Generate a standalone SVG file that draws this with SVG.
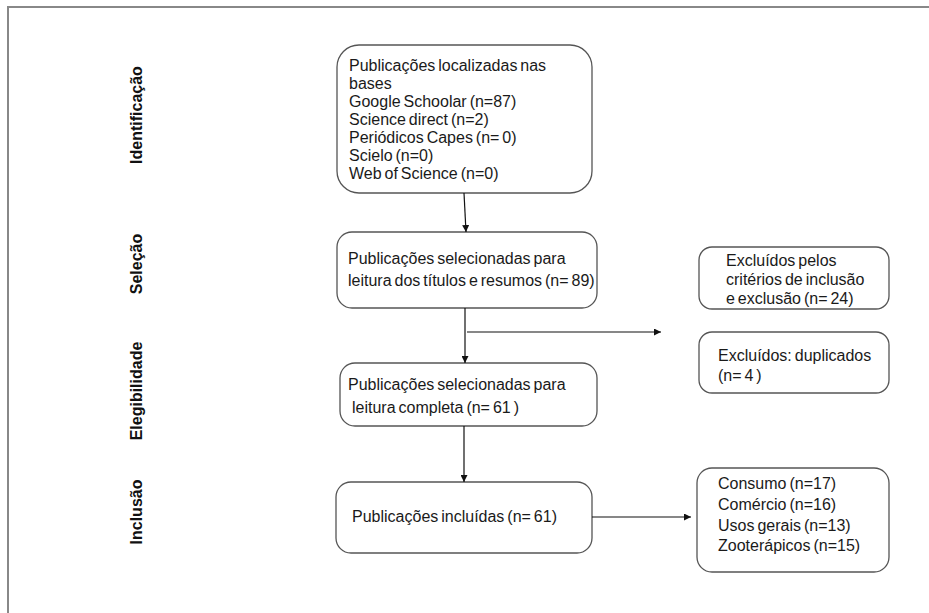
<svg xmlns="http://www.w3.org/2000/svg" width="929" height="613" viewBox="0 0 929 613">
<defs>
<marker id="ah" viewBox="0 0 10 10" refX="10" refY="5" markerWidth="7" markerHeight="7" markerUnits="userSpaceOnUse" orient="auto">
<path d="M0,0 L10,5 L0,10 z" fill="#111"/>
</marker>
<style>
.box{fill:#fff;stroke:#555;stroke-width:1.3}
.t{font-family:"Liberation Sans",Arial,sans-serif;font-size:16px;fill:#1a1a1a;word-spacing:-1.5px}
.side{font-family:"Liberation Sans",Arial,sans-serif;font-size:16px;font-weight:bold;fill:#111}
.c{stroke:#111;stroke-width:1.2;fill:none}
</style>
</defs>
<rect x="0" y="0" width="929" height="613" fill="#fff"/>
<rect x="8" y="7" width="940" height="640" fill="none" stroke="#888" stroke-width="2"/>
<g id="labels">
<text class="side" transform="translate(142,115) rotate(-90)" text-anchor="middle">Identificação</text>
<text class="side" transform="translate(142,264) rotate(-90)" text-anchor="middle">Seleção</text>
<text class="side" transform="translate(142,391) rotate(-90)" text-anchor="middle">Elegibilidade</text>
<text class="side" transform="translate(142,512) rotate(-90)" text-anchor="middle">Inclusão</text>
</g>
<g id="n1">
<rect class="box" x="337" y="45" width="255" height="148" rx="22"/>
<text class="t"><tspan x="349" y="71">Publicações localizadas nas</tspan><tspan x="349" y="89">bases</tspan><tspan x="349" y="107">Google Schoolar (n=87)</tspan><tspan x="349" y="125">Science direct (n=2)</tspan><tspan x="349" y="143">Periódicos Capes (n= 0)</tspan><tspan x="349" y="161">Scielo (n=0)</tspan><tspan x="349" y="179">Web of Science (n=0)</tspan></text>
</g>
<g id="n2">
<rect class="box" x="337" y="232" width="260" height="76" rx="15"/>
<text class="t"><tspan x="348" y="264">Publicações selecionadas para</tspan><tspan x="348" y="286">leitura dos títulos e resumos (n= 89)</tspan></text>
</g>
<g id="n3">
<rect class="box" x="340" y="363" width="257" height="63" rx="15"/>
<text class="t"><tspan x="348" y="390">Publicações selecionadas para</tspan><tspan x="352" y="413">leitura completa (n= 61 )</tspan></text>
</g>
<g id="n4">
<rect class="box" x="336" y="482" width="256" height="71" rx="15"/>
<text class="t" x="352" y="522">Publicações incluídas (n= 61)</text>
</g>
<g id="n5">
<rect class="box" x="699" y="247" width="190" height="62" rx="13"/>
<text class="t"><tspan x="726" y="266">Excluídos pelos</tspan><tspan x="726" y="285">critérios de inclusão</tspan><tspan x="726" y="304">e exclusão (n= 24)</tspan></text>
</g>
<g id="n6">
<rect class="box" x="699" y="332" width="190" height="61" rx="13"/>
<text class="t"><tspan x="718" y="361">Excluídos: duplicados</tspan><tspan x="718" y="381">(n= 4 )</tspan></text>
</g>
<g id="n7">
<rect class="box" x="697" y="468" width="192" height="104" rx="15"/>
<text class="t"><tspan x="718" y="489">Consumo (n=17)</tspan><tspan x="718" y="510">Comércio (n=16)</tspan><tspan x="718" y="531">Usos gerais (n=13)</tspan><tspan x="718" y="551">Zooterápicos (n=15)</tspan></text>
</g>
<g id="connectors">
<line class="c" x1="464" y1="193" x2="466" y2="232" marker-end="url(#ah)"/>
<line class="c" x1="465" y1="308" x2="465" y2="363" marker-end="url(#ah)"/>
<line class="c" x1="467" y1="332" x2="661" y2="332" marker-end="url(#ah)"/>
<line class="c" x1="464" y1="426" x2="464" y2="482" marker-end="url(#ah)"/>
<line class="c" x1="592" y1="517" x2="691" y2="517" marker-end="url(#ah)"/>
</g>
</svg>
